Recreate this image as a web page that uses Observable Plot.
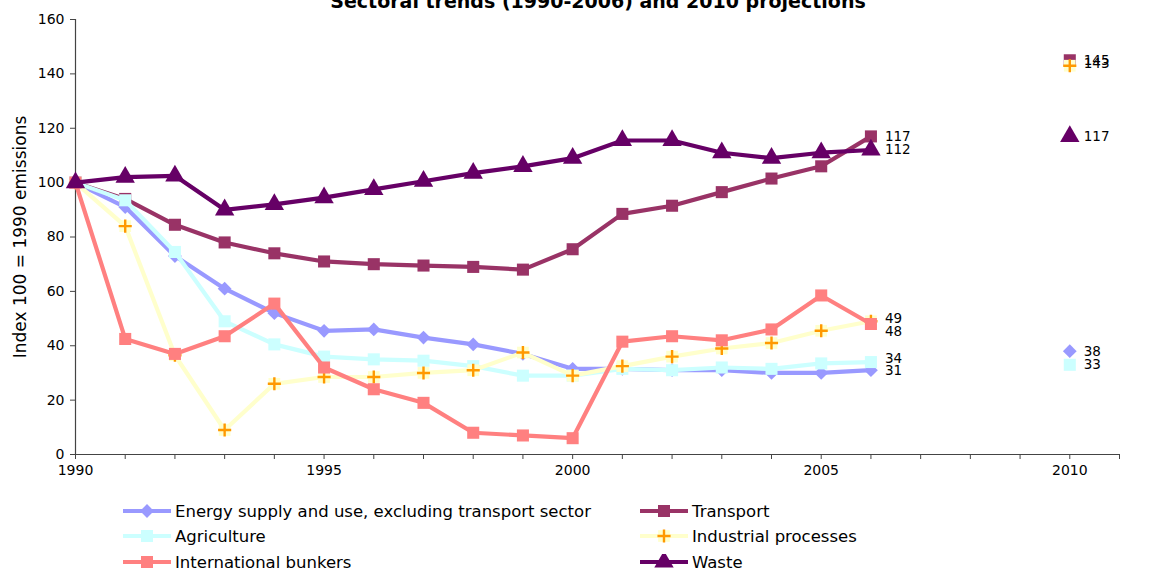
<!DOCTYPE html>
<html><head><meta charset="utf-8">
<script src="https://cdn.jsdelivr.net/npm/d3@7"></script>
<script src="https://cdn.jsdelivr.net/npm/@observablehq/plot@0.6"></script>
<style>
body{margin:0;background:#fff;font-family:"DejaVu Sans",Verdana,sans-serif;}
#wrap{position:relative;width:1157px;height:570px;overflow:hidden;background:#fff;}
#title{position:absolute;left:0;width:1196px;top:-8.5px;text-align:center;font-weight:bold;font-size:19px;line-height:19px;color:#000;white-space:nowrap;}
#chart{position:absolute;left:0;top:0;}
#legend{position:absolute;left:0;top:0;width:1157px;height:570px;pointer-events:none;}
.item{position:absolute;display:flex;align-items:center;font-size:16.5px;color:#000;height:20px;white-space:nowrap;}
.item svg{margin-right:4px;flex:none;}
</style>
</head><body>
<div id="wrap">
  <div id="chart"></div>
  <div id="title">Sectoral trends (1990-2006) and 2010 projections</div>
  <div id="legend"></div>
</div>
<script>
// ---- data ----
const years = d3.range(1990, 2007);
const projectionYear = 2010;
const seriesNames = [
  "Energy supply and use, excluding transport sector",
  "Transport",
  "Agriculture",
  "Industrial processes",
  "International bunkers",
  "Waste"
];
const energy      = [100, 91, 73, 61, 52, 45.5, 46, 43, 40.5, 37, 31.5, 31.5, 31, 31, 30, 30, 31];
const transport   = [100, 94, 84.5, 78, 74, 71, 70, 69.5, 69, 68, 75.5, 88.5, 91.5, 96.5, 101.5, 106, 117];
const agriculture = [100, 93.5, 74.5, 49, 40.5, 36, 35, 34.5, 32.5, 29, 29, 31.5, 31, 32, 31.5, 33.5, 34];
const industrial  = [100, 84, 36.5, 9, 26, 28.5, 28.5, 30, 31, 37.5, 29, 32.5, 36, 39, 41, 45.5, 49];
const bunkers     = [100, 42.5, 37, 43.5, 55.5, 32, 24, 19, 8, 7, 6, 41.5, 43.5, 42, 46, 58.5, 48];
const waste       = [100, 102, 102.5, 90, 92, 94.5, 97.5, 100.5, 103.5, 106, 109, 115.5, 115.5, 111, 109, 111, 112];
const projections = [38, 145, 33, 143, null, 117];
const label2006   = [31, 117, 34, 49, 48, 112];
const yTicks = [0, 20, 40, 60, 80, 100, 120, 140, 160];
const xTickLabels = [1990, 1995, 2000, 2005, 2010];
const yLabel = "Index 100 = 1990 emissions";

// ---- styles (per series, in the same order) ----
const allValues = [energy, transport, agriculture, industrial, bunkers, waste];
const styles = [
  {line:"#9999FF", fill:"#9999FF", symbol:"diamond2", r:6.2, dy2006:0, dy2010:0},
  {line:"#993366", fill:"#993366", symbol:"square", r:6.8, dy2006:0, dy2010:0},
  {line:"#CCFFFF", fill:"#CCFFFF", symbol:"square", r:6.8, dy2006:-3, dy2010:0},
  {line:"#FFFFCC", fill:"#FFFFCC", symbol:"square", r:6.6, plus:"#FF9900", dy2006:-3, dy2010:-2},
  {line:"#FF8080", fill:"#FF8080", symbol:"square", r:6.8, dy2006:8, dy2010:0},
  {line:"#660066", fill:"#660066", symbol:"triangle", r:7.2, dy2006:0, dy2010:0}
];

const rows = [];
seriesNames.forEach((name, i) => {
  years.forEach((yr, j) => rows.push({series:name, idx:i, year:yr, value:allValues[i][j]}));
});
const projRows = seriesNames.map((name, i) => ({series:name, idx:i, year:projectionYear, value:projections[i]})).filter(d => d.value != null);
const lab2006 = seriesNames.map((name, i) => ({idx:i, year:2006, value:label2006[i]}));

const PLUS_R = 4.3;
const marks = [];
styles.forEach((s, i) => {
  const data = rows.filter(d => d.idx === i);
  const proj = projRows.filter(d => d.idx === i);
  marks.push(Plot.line(data, {x:"year", y:"value", stroke:s.line, strokeWidth:4.2}));
  marks.push(Plot.dot(data.concat(proj), {x:"year", y:"value", symbol:s.symbol, r:s.r, fill:s.fill, stroke:"none"}));
  if (s.plus) marks.push(Plot.dot(data.concat(proj), {x:"year", y:"value", symbol:"plus", r:PLUS_R, stroke:s.plus, strokeWidth:2.4, fill:"none"}));
  marks.push(Plot.text(lab2006.filter(d => d.idx === i), {x:"year", y:"value", text:d => String(d.value), dx:14, dy:s.dy2006, textAnchor:"start", fontSize:13.5, fill:"#000"}));
  marks.push(Plot.text(proj, {x:"year", y:"value", text:d => String(d.value), dx:14, dy:s.dy2010, textAnchor:"start", fontSize:13.5, fill:"#000"}));
});

const chart = Plot.plot({
  width: 1157,
  height: 484,
  marginLeft: 75,
  marginRight: 38,
  marginTop: 19,
  marginBottom: 30,
  style: {fontFamily:"DejaVu Sans, Verdana, sans-serif", fontSize:"14px", color:"#000", background:"transparent"},
  x: {domain:[1990, 2011]},
  y: {domain:[0, 160]},
  marks: [
    Plot.axisY({ticks:yTicks, tickSize:5, tickPadding:6, label:null, stroke:"#444", fontSize:14}),
    Plot.axisX({ticks:d3.range(1990, 2012), tickSize:5, tickPadding:6, label:null, stroke:"#444", fontSize:14,
                tickFormat:d => xTickLabels.includes(d) ? String(d) : ""}),
    Plot.ruleY([0], {stroke:"#444", strokeWidth:1.2}),
    Plot.ruleX([1990], {stroke:"#444", strokeWidth:1.2}),
    Plot.text([yLabel], {frameAnchor:"left", dx:-55, rotate:-90, textAnchor:"middle", fontSize:17, fill:"#000"}),
    ...marks
  ]
});
document.getElementById("chart").appendChild(chart);

// ---- legend ----
const legendPos = [[123, 511], [640, 511], [123, 536], [640, 536], [123, 562], [640, 562]];
const legend = document.getElementById("legend");
const symMap = {square:d3.symbolSquare, diamond2:d3.symbolDiamond2, triangle:d3.symbolTriangle};
seriesNames.forEach((name, i) => {
  const s = styles[i];
  const [lx, ly] = legendPos[i];
  const item = document.createElement("div");
  item.className = "item";
  item.style.left = lx + "px";
  item.style.top = (ly - 10) + "px";
  const svg = d3.create("svg").attr("width", 48).attr("height", 16);
  svg.append("line").attr("x1", 0).attr("x2", 48).attr("y1", 8).attr("y2", 8).attr("stroke", s.line).attr("stroke-width", 4.2);
  svg.append("path").attr("transform", "translate(24,8)").attr("d", d3.symbol(symMap[s.symbol], Math.PI * s.r * s.r)()).attr("fill", s.fill);
  if (s.plus) svg.append("path").attr("transform", "translate(24,8)").attr("d", d3.symbol(d3.symbolPlus, Math.PI * PLUS_R * PLUS_R)()).attr("fill", "none").attr("stroke", s.plus).attr("stroke-width", 2.4);
  item.appendChild(svg.node());
  const t = document.createElement("span");
  t.textContent = name;
  item.appendChild(t);
  legend.appendChild(item);
});
</script>
</body></html>
